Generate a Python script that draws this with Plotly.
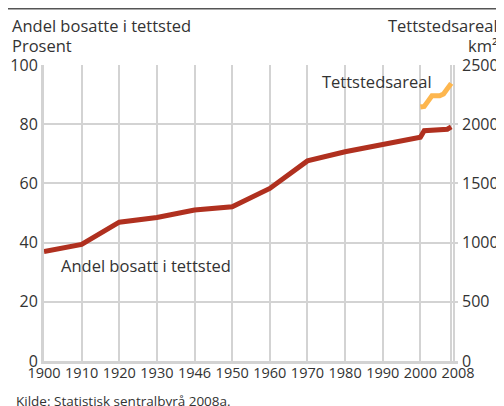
import plotly.graph_objects as go

# ---- data ----
tick_labels = ["1900", "1910", "1920", "1930", "1946", "1950", "1960",
               "1970", "1980", "1990", "2000", "2008"]
years_main = [1900, 1910, 1920, 1930, 1946, 1950, 1960, 1970, 1980, 1990, 2000]
share_main = [37.0, 39.4, 46.9, 48.5, 51.0, 52.1, 58.3, 67.6, 70.7, 73.2, 75.6]
years_annual = [2001, 2002, 2003, 2004, 2005, 2006, 2007, 2008]
share_annual = [77.8, 77.9, 78.0, 78.0, 77.9, 77.9, 78.3, 79.1]
years_area = [2000, 2001, 2002, 2003, 2004, 2005, 2006, 2007, 2008]
area_km2 = [2145, 2150, 2195, 2240, 2240, 2240, 2255, 2300, 2345]

# position on the x axis: main years at their index, 2000-2008 compressed
ANNUAL_STEP = 0.1025


def xpos(year):
    if year in years_main:
        return years_main.index(year)
    return 10 + ANNUAL_STEP * (year - 2000)


red_x = [xpos(y) for y in years_main] + [xpos(y) for y in years_annual]
red_y = share_main + share_annual
yel_x = [xpos(y) for y in years_area]

RED = "#B0301F"
YEL = "#FDB64E"
GRID = "#D3D3D3"
TXT = "#333333"
FONT = "Open Sans"

# page has an 8px body margin: figure sits at (8, 8) in the window
OFF = 8
FW, FH = 504 - OFF, 406 - OFF
L, T = 44 - OFF, 65 - OFF
B = FH - (361 - OFF)
R = FW - (457.6 - OFF)
PW = FW - L - R
PH = FH - T - B

fig = go.Figure()
fig.add_trace(go.Scatter(x=red_x, y=red_y, mode="lines",
                         line=dict(color=RED, width=5), yaxis="y",
                         hoverinfo="skip", showlegend=False))
fig.add_trace(go.Scatter(x=yel_x, y=area_km2, mode="lines",
                         line=dict(color=YEL, width=5), yaxis="y2",
                         hoverinfo="skip", showlegend=False))

grid_x = list(range(11)) + [xpos(2008), 10.9]
fig.update_layout(
    width=FW, height=FH,
    margin=dict(l=L, r=R, t=T, b=B, autoexpand=False),
    paper_bgcolor="white", plot_bgcolor="white",
    font=dict(family=FONT, color=TXT, size=16),
    xaxis=dict(range=[0, 11], tickmode="array", tickvals=list(range(12)),
               ticktext=tick_labels, showgrid=False, ticks="",
               ticklabelstandoff=-3,
               tickfont=dict(size=14.5, color=TXT, family=FONT),
               minor=dict(tickmode="array", tickvals=grid_x, showgrid=True,
                          gridcolor=GRID, gridwidth=2, ticks=""),
               zeroline=False, showline=True, linecolor=GRID, linewidth=3,
               automargin=False),
    yaxis=dict(range=[0, 100], tickvals=[0, 20, 40, 60, 80, 100],
               showgrid=True, gridcolor=GRID, gridwidth=2, zeroline=False,
               showline=True, linecolor=GRID, linewidth=3, ticks="",
               tickfont=dict(size=16, color=TXT, family=FONT), automargin=False),
    yaxis2=dict(range=[0, 2500], tickvals=[0, 500, 1000, 1500, 2000, 2500],
                overlaying="y", side="right", showgrid=False,
                zeroline=False, showline=False, ticks="", ticklabelstandoff=3,
                tickfont=dict(size=16, color=TXT, family=FONT), automargin=False),
)


def px(xs):
    return (xs - OFF - L) / PW


def py(ys):
    return (FH - B - (ys - OFF)) / PH


ann = [
    dict(text="Andel bosatte i tettsted", x=px(10), y=py(26), xanchor="left"),
    dict(text="Prosent", x=px(10), y=py(45), xanchor="left"),
    dict(text="Tettstedsareal", x=px(500), y=py(26), xanchor="right"),
    dict(text="km²", x=px(500), y=py(45), xanchor="right"),
    dict(text="Kilde: Statistisk sentralbyrå 2008a.", x=px(14), y=py(401),
         xanchor="left", font=dict(size=13.5, color=TXT, family=FONT)),
]
for a in ann:
    a.update(xref="paper", yref="paper", showarrow=False, yanchor="middle")
    a.setdefault("font", dict(size=16.5, color=TXT, family=FONT))
    fig.add_annotation(**a)

fig.add_annotation(text="Tettstedsareal", x=8.84, y=94.3, xref="x", yref="y",
                   showarrow=False, font=dict(size=16.5, color=TXT, family=FONT))
fig.add_annotation(text="Andel bosatt i tettsted", x=2.71, y=32.1, xref="x", yref="y",
                   showarrow=False, font=dict(size=16.5, color=TXT, family=FONT))

fig.add_shape(type="line", xref="paper", yref="paper",
              x0=px(OFF), x1=px(504), y0=py(OFF + 0.8), y1=py(OFF + 0.8),
              line=dict(color="#555555", width=1.5))

fig.write_html("out.html")
